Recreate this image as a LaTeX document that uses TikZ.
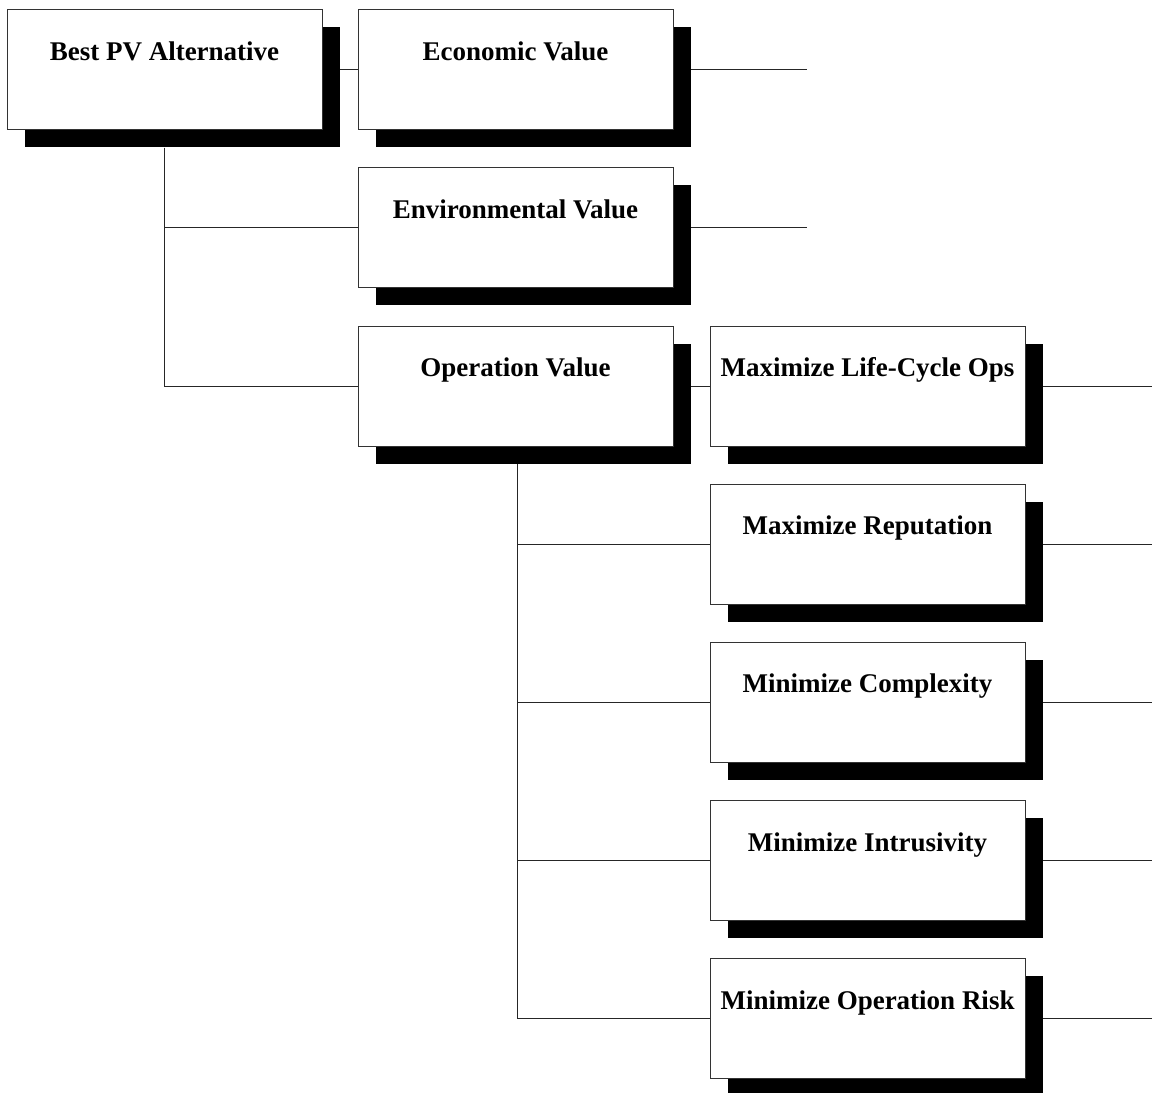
\documentclass[tikz,border=0pt]{standalone}
\usepackage{fontspec}
\setmainfont{Liberation Serif}
\usetikzlibrary{shadows}

\tikzset{
  valuebox/.style={
    draw=black!80, line width=1pt, fill=white,
    minimum width=315pt, minimum height=120pt, inner sep=0pt,
    text height=50.5pt, text depth=69.5pt,
    font=\fontsize{27}{31}\selectfont\bfseries,
    drop shadow={shadow xshift=17.5pt, shadow yshift=-17.5pt,
                 fill=black, draw=none, opacity=1}
  },
  link/.style={draw=black!85, line width=1pt}
}

\begin{document}
\begin{tikzpicture}[x=1pt, y=-1pt]
  \clip (0,0) rectangle (1152,1093);

  % top level and first-tier values
  \node[valuebox] (bpv)  at (164.5, 69.5)  {Best PV Alternative};
  \node[valuebox] (econ) at (515.5, 69.5)  {Economic Value};
  \node[valuebox] (env)  at (515.5, 227.7) {Environmental Value};
  \node[valuebox] (ops)  at (515.5, 386)   {Operation Value};

  % operation sub-objectives
  \node[valuebox] (lco)  at (867.5, 386)    {Maximize Life-Cycle Ops};
  \node[valuebox] (rep)  at (867.5, 544.2)  {Maximize Reputation};
  \node[valuebox] (cpx)  at (867.5, 702.4)  {Minimize Complexity};
  \node[valuebox] (intr) at (867.5, 860.6)  {Minimize Intrusivity};
  \node[valuebox] (risk) at (867.5, 1018.8) {Minimize Operation Risk};

  % open ends of the branches
  \coordinate (econEnd) at (807, 69.5);
  \coordinate (envEnd)  at (807, 227.7);
  \coordinate (lcoEnd)  at (1152, 386);
  \coordinate (repEnd)  at (1152, 544.2);
  \coordinate (cpxEnd)  at (1152, 702.4);
  \coordinate (intrEnd) at (1152, 860.6);
  \coordinate (riskEnd) at (1152, 1018.8);

  % connectors from the root
  \draw[link] ([xshift=17.5pt]bpv.east) -- (econ.west);
  \draw[link] ([yshift=-17.5pt]bpv.south) |- (env.west);
  \draw[link] ([yshift=-17.5pt]bpv.south) |- (ops.west);

  % connectors from operation value
  \draw[link] ([xshift=17.5pt]ops.east) -- (lco.west);
  \draw[link] ([xshift=1.5pt,yshift=-17.5pt]ops.south) |- (rep.west);
  \draw[link] ([xshift=1.5pt,yshift=-17.5pt]ops.south) |- (cpx.west);
  \draw[link] ([xshift=1.5pt,yshift=-17.5pt]ops.south) |- (intr.west);
  \draw[link] ([xshift=1.5pt,yshift=-17.5pt]ops.south) |- (risk.west);

  % branch ends
  \draw[link] ([xshift=17.5pt]econ.east) -- (econEnd);
  \draw[link] ([xshift=17.5pt]env.east)  -- (envEnd);
  \draw[link] ([xshift=17.5pt]lco.east)  -- (lcoEnd);
  \draw[link] ([xshift=17.5pt]rep.east)  -- (repEnd);
  \draw[link] ([xshift=17.5pt]cpx.east)  -- (cpxEnd);
  \draw[link] ([xshift=17.5pt]intr.east) -- (intrEnd);
  \draw[link] ([xshift=17.5pt]risk.east) -- (riskEnd);
\end{tikzpicture}
\end{document}
